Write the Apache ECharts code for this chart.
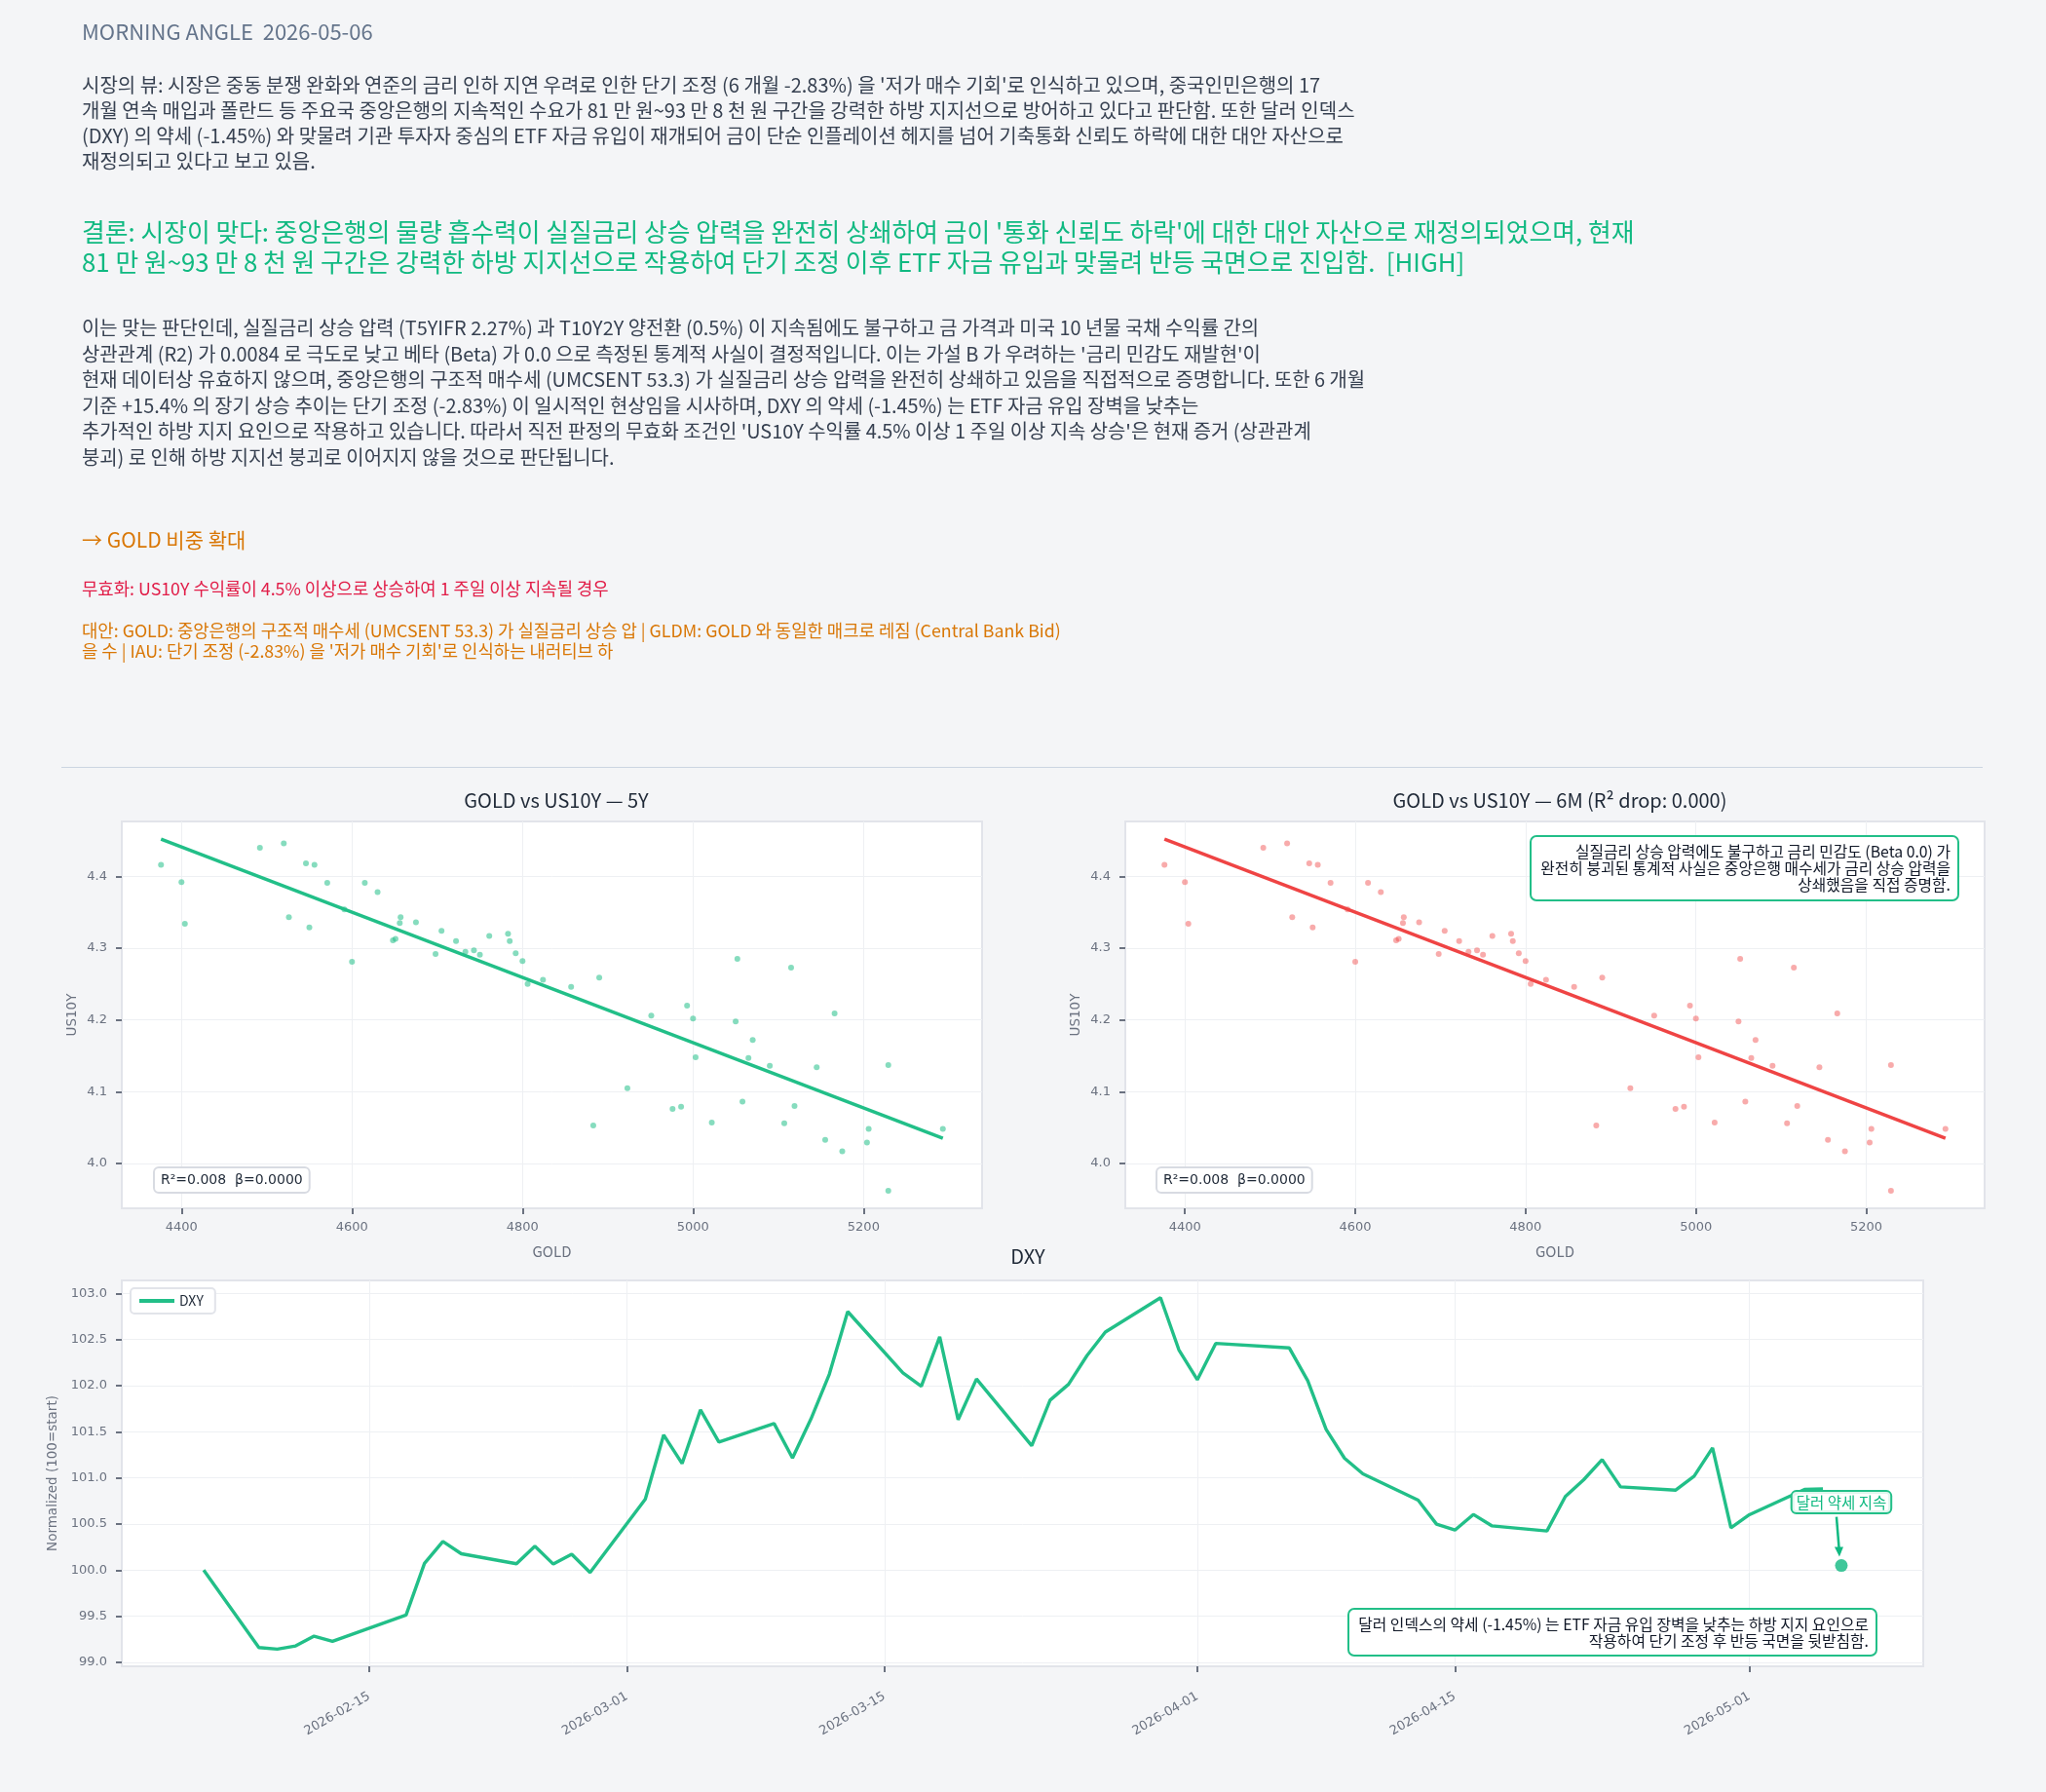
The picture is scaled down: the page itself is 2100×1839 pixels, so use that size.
<!DOCTYPE html>
<html>
<head>
<meta charset="utf-8">
<title>Morning Angle</title>
<script src="https://cdn.jsdelivr.net/npm/echarts@6/dist/echarts.min.js"></script>
<style>
  body { margin: 0; background: #f4f5f7; font-family: "Noto Sans CJK KR", "Noto Sans", sans-serif; }
  #page { position: relative; width: 2100px; height: 1839px; overflow: hidden; }
  #main { position: absolute; left: 0; top: 0; width: 2100px; height: 1839px; }
  .txt { position: absolute; left: 84px; white-space: pre; }
  #head { top: 16px; font-size: 22px; line-height: 30px; color: #64748b; }
  #view { top: 74px; font-size: 20px; line-height: 26px; color: #374151; }
  #verdict { top: 221px; font-size: 25.8px; line-height: 31px; color: #10b981; }
  #reason { top: 323px; font-size: 19.9px; line-height: 26.5px; color: #374151; }
  #action { top: 539px; font-size: 21px; line-height: 28px; color: #d97706; }
  #invalid { top: 592px; font-size: 17.8px; line-height: 22px; color: #e11d48; }
  #alt { top: 636px; font-size: 17.8px; line-height: 21px; color: #d97706; }
  #rule { position: absolute; left: 63px; top: 787px; width: 1972px; border-top: 1.5px solid #cbd5e1; }
</style>
</head>
<body>
<div id="page">
  <div id="main"></div>
  <div class="txt" id="head">MORNING ANGLE  2026-05-06</div>
  <div class="txt" id="view">시장의 뷰: 시장은 중동 분쟁 완화와 연준의 금리 인하 지연 우려로 인한 단기 조정 (6 개월 -2.83%) 을 '저가 매수 기회'로 인식하고 있으며, 중국인민은행의 17
개월 연속 매입과 폴란드 등 주요국 중앙은행의 지속적인 수요가 81 만 원~93 만 8 천 원 구간을 강력한 하방 지지선으로 방어하고 있다고 판단함. 또한 달러 인덱스
(DXY) 의 약세 (-1.45%) 와 맞물려 기관 투자자 중심의 ETF 자금 유입이 재개되어 금이 단순 인플레이션 헤지를 넘어 기축통화 신뢰도 하락에 대한 대안 자산으로
재정의되고 있다고 보고 있음.</div>
  <div class="txt" id="verdict">결론: 시장이 맞다: 중앙은행의 물량 흡수력이 실질금리 상승 압력을 완전히 상쇄하여 금이 '통화 신뢰도 하락'에 대한 대안 자산으로 재정의되었으며, 현재
81 만 원~93 만 8 천 원 구간은 강력한 하방 지지선으로 작용하여 단기 조정 이후 ETF 자금 유입과 맞물려 반등 국면으로 진입함.  [HIGH]</div>
  <div class="txt" id="reason">이는 맞는 판단인데, 실질금리 상승 압력 (T5YIFR 2.27%) 과 T10Y2Y 양전환 (0.5%) 이 지속됨에도 불구하고 금 가격과 미국 10 년물 국채 수익률 간의
상관관계 (R2) 가 0.0084 로 극도로 낮고 베타 (Beta) 가 0.0 으로 측정된 통계적 사실이 결정적입니다. 이는 가설 B 가 우려하는 '금리 민감도 재발현'이
현재 데이터상 유효하지 않으며, 중앙은행의 구조적 매수세 (UMCSENT 53.3) 가 실질금리 상승 압력을 완전히 상쇄하고 있음을 직접적으로 증명합니다. 또한 6 개월
기준 +15.4% 의 장기 상승 추이는 단기 조정 (-2.83%) 이 일시적인 현상임을 시사하며, DXY 의 약세 (-1.45%) 는 ETF 자금 유입 장벽을 낮추는
추가적인 하방 지지 요인으로 작용하고 있습니다. 따라서 직전 판정의 무효화 조건인 'US10Y 수익률 4.5% 이상 1 주일 이상 지속 상승'은 현재 증거 (상관관계
붕괴) 로 인해 하방 지지선 붕괴로 이어지지 않을 것으로 판단됩니다.</div>
  <div class="txt" id="action">→ GOLD 비중 확대</div>
  <div class="txt" id="invalid">무효화: US10Y 수익률이 4.5% 이상으로 상승하여 1 주일 이상 지속될 경우</div>
  <div class="txt" id="alt">대안: GOLD: 중앙은행의 구조적 매수세 (UMCSENT 53.3) 가 실질금리 상승 압 | GLDM: GOLD 와 동일한 매크로 레짐 (Central Bank Bid)
을 수 | IAU: 단기 조정 (-2.83%) 을 '저가 매수 기회'로 인식하는 내러티브 하</div>
  <div id="rule"></div>
</div>
<script>
// scatter: GOLD vs US10Y (same sample in both panels)
var goldX = [4376, 4400, 4404, 4492, 4520, 4526, 4546, 4556, 4550, 4571, 4591, 4600, 4615, 4630, 4648, 4651,
  4657, 4656, 4675, 4698, 4705, 4722, 4733, 4743, 4750, 4761, 4783, 4785, 4792, 4800, 4806, 4824, 4857, 4883,
  4890, 4923, 4951, 4976, 4986, 4993, 5000, 5003, 5022, 5050, 5052, 5058, 5065, 5070, 5090, 5107, 5115, 5119,
  5145, 5155, 5166, 5175, 5204, 5206, 5229, 5229, 5293]
var us10y = [4.416, 4.392, 4.334, 4.440, 4.446, 4.343, 4.418, 4.416, 4.329, 4.391, 4.354, 4.281, 4.391, 4.378,
  4.311, 4.313, 4.343, 4.335, 4.336, 4.292, 4.324, 4.310, 4.295, 4.297, 4.291, 4.317, 4.320, 4.310, 4.293, 4.282,
  4.250, 4.256, 4.246, 4.053, 4.259, 4.105, 4.206, 4.076, 4.079, 4.220, 4.202, 4.148, 4.057, 4.198, 4.285, 4.086,
  4.147, 4.172, 4.136, 4.056, 4.273, 4.080, 4.134, 4.033, 4.209, 4.017, 4.029, 4.048, 4.137, 3.962, 4.048]
// fitted line end points as drawn
var fitX = [4376, 5293]
var fitY = [4.452, 4.035]
var goldTicks = [4400, 4600, 4800, 5000, 5200]
var yieldTicks = [4.0, 4.1, 4.2, 4.3, 4.4]

// DXY normalized (100 = start)
var dxyDates = ['2026-02-06', '2026-02-09', '2026-02-10', '2026-02-11', '2026-02-12', '2026-02-13', '2026-02-17',
  '2026-02-18', '2026-02-19', '2026-02-20', '2026-02-23', '2026-02-24', '2026-02-25', '2026-02-26', '2026-02-27',
  '2026-03-02', '2026-03-03', '2026-03-04', '2026-03-05', '2026-03-06', '2026-03-09', '2026-03-10', '2026-03-11',
  '2026-03-12', '2026-03-13', '2026-03-16', '2026-03-17', '2026-03-18', '2026-03-19', '2026-03-20', '2026-03-23',
  '2026-03-24', '2026-03-25', '2026-03-26', '2026-03-27', '2026-03-30', '2026-03-31', '2026-04-01', '2026-04-02',
  '2026-04-06', '2026-04-07', '2026-04-08', '2026-04-09', '2026-04-10', '2026-04-13', '2026-04-14', '2026-04-15',
  '2026-04-16', '2026-04-17', '2026-04-20', '2026-04-21', '2026-04-22', '2026-04-23', '2026-04-24', '2026-04-27',
  '2026-04-28', '2026-04-29', '2026-04-30', '2026-05-01', '2026-05-04', '2026-05-05']
var dxyValues = [100.0, 99.162, 99.144, 99.179, 99.285, 99.229, 99.514, 100.073, 100.312, 100.178, 100.07, 100.259,
  100.066, 100.172, 99.975, 100.770, 101.466, 101.157, 101.737, 101.389, 101.589, 101.216, 101.638, 102.124,
  102.803, 102.138, 101.994, 102.529, 101.631, 102.073, 101.350, 101.843, 102.015, 102.325, 102.581, 102.954,
  102.388, 102.064, 102.458, 102.409, 102.054, 101.526, 101.213, 101.044, 100.759, 100.499, 100.435, 100.604,
  100.481, 100.425, 100.798, 100.981, 101.199, 100.903, 100.868, 101.019, 101.325, 100.460, 100.601, 100.875,
  100.882]
var markerDate = '2026-05-06'
var markerValue = 100.05
var dateTicks = ['2026-02-15', '2026-03-01', '2026-03-15', '2026-04-01', '2026-04-15', '2026-05-01']
var dxyTicks = [99.0, 99.5, 100.0, 100.5, 101.0, 101.5, 102.0, 102.5, 103.0]

var GREEN = '#22bf88'
var RED = '#ef4444'
var FONT = '"Noto Sans CJK KR", "Noto Sans", sans-serif'
var TICKFONT = '"DejaVu Sans", sans-serif'
var GRAY = '#6b7280'
var DAY = 86400000

function toTime(s) {
  var p = s.split('-')
  return Date.UTC(+p[0], +p[1] - 1, +p[2])
}
function pad(n) { return (n < 10 ? '0' : '') + n }
function fmtDate(v) {
  var d = new Date(Math.round(v / DAY) * DAY)
  return d.getUTCFullYear() + '-' + pad(d.getUTCMonth() + 1) + '-' + pad(d.getUTCDate())
}

var scatterPts = goldX.map(function (g, i) { return [g, us10y[i]] })
var fitPts = fitX.map(function (g, i) { return [g, fitY[i]] })
var dxyPts = dxyDates.map(function (d, i) { return [toTime(d), dxyValues[i]] })
var dateTickVals = dateTicks.map(toTime)

var grids = [
  { left: 125, top: 843, width: 883, height: 397 },
  { left: 1155, top: 843, width: 882, height: 397 },
  { left: 125, top: 1314, width: 1849, height: 396 }
]
grids.forEach(function (g) {
  g.show = true
  g.backgroundColor = '#ffffff'
  g.borderColor = '#e2e4ea'
  g.borderWidth = 2
  g.containLabel = false
  g.outerBoundsMode = 'none'
})

function tickStyle(vals) {
  return { show: true, inside: false, length: 6, customValues: vals, lineStyle: { color: GRAY, width: 2 } }
}
function labelStyle(extra) {
  return Object.assign({ color: GRAY, fontSize: 13, fontFamily: TICKFONT }, extra)
}
var splitStyle = { show: true, lineStyle: { color: '#eef0f3', width: 1 } }

function goldAxis(idx) {
  return {
    type: 'value', gridIndex: idx, min: 4330, max: 5339,
    name: 'GOLD', nameLocation: 'middle', nameGap: 37,
    nameTextStyle: { color: GRAY, fontSize: 15, fontFamily: FONT },
    axisLine: { show: false },
    axisTick: tickStyle(goldTicks),
    axisLabel: labelStyle({ margin: 13, customValues: goldTicks, formatter: function (v) { return String(v) } }),
    splitLine: splitStyle
  }
}
function yieldAxis(idx) {
  return {
    type: 'value', gridIndex: idx, min: 3.9375, max: 4.4765,
    name: 'US10Y', nameLocation: 'middle', nameGap: 44,
    nameTextStyle: { color: GRAY, fontSize: 13.5, fontFamily: TICKFONT },
    axisLine: { show: false },
    axisTick: tickStyle(yieldTicks),
    axisLabel: labelStyle({ margin: 15, customValues: yieldTicks, formatter: function (v) { return v.toFixed(1) } }),
    splitLine: splitStyle
  }
}

var titleStyle = { color: '#1f2937', fontSize: 20, fontWeight: 'normal', fontFamily: FONT }

var option = {
  animation: false,
  backgroundColor: 'transparent',
  title: [
    { text: 'GOLD vs US10Y — 5Y', left: 566, top: 806, textAlign: 'center', textStyle: titleStyle },
    { text: 'GOLD vs US10Y — 6M (R² drop: 0.000)', left: 1596, top: 806, textAlign: 'center', textStyle: titleStyle },
    { text: 'DXY', left: 1050, top: 1274, textAlign: 'center', textStyle: titleStyle }
  ],
  legend: {
    left: 134, top: 1322,
    data: [{ name: 'DXY', icon: 'rect' }],
    itemWidth: 36, itemHeight: 4,
    padding: [6, 12, 6, 9],
    backgroundColor: '#ffffff', borderColor: '#e2e4ea', borderWidth: 2, borderRadius: 4,
    textStyle: { color: '#1f2937', fontSize: 14, fontFamily: FONT }
  },
  grid: grids,
  xAxis: [
    goldAxis(0),
    goldAxis(1),
    {
      type: 'value', gridIndex: 2,
      min: toTime('2026-02-06') - 4.45 * DAY, max: toTime('2026-05-06') + 4.45 * DAY,
      axisLine: { show: false },
      axisTick: tickStyle(dateTickVals),
      axisLabel: labelStyle({ customValues: dateTickVals, rotate: 30, margin: 30, formatter: fmtDate }),
      splitLine: splitStyle
    }
  ],
  yAxis: [
    yieldAxis(0),
    yieldAxis(1),
    {
      type: 'value', gridIndex: 2, min: 98.958, max: 103.141,
      name: 'Normalized (100=start)', nameLocation: 'middle', nameGap: 58,
      nameTextStyle: { color: GRAY, fontSize: 13.5, fontFamily: TICKFONT },
      axisLine: { show: false },
      axisTick: tickStyle(dxyTicks),
      axisLabel: labelStyle({ margin: 15, customValues: dxyTicks, formatter: function (v) { return v.toFixed(1) } }),
      splitLine: splitStyle
    }
  ],
  series: [
    { type: 'scatter', xAxisIndex: 0, yAxisIndex: 0, data: scatterPts, symbolSize: 6,
      itemStyle: { color: GREEN, opacity: 0.55 }, z: 2 },
    { type: 'line', xAxisIndex: 0, yAxisIndex: 0, data: fitPts, symbol: 'none',
      lineStyle: { color: GREEN, width: 3.5 }, z: 3 },
    { type: 'scatter', xAxisIndex: 1, yAxisIndex: 1, data: scatterPts, symbolSize: 6,
      itemStyle: { color: RED, opacity: 0.45 }, z: 2 },
    { type: 'line', xAxisIndex: 1, yAxisIndex: 1, data: fitPts, symbol: 'none',
      lineStyle: { color: RED, width: 3.5 }, z: 3 },
    { name: 'DXY', type: 'line', xAxisIndex: 2, yAxisIndex: 2, data: dxyPts, symbol: 'none',
      lineStyle: { color: GREEN, width: 3.4 }, itemStyle: { color: GREEN }, z: 3 },
    { type: 'scatter', xAxisIndex: 2, yAxisIndex: 2, data: [[toTime(markerDate), markerValue]],
      symbolSize: 13, itemStyle: { color: '#10b981' }, z: 5 }
  ]
}

var chart = echarts.init(document.getElementById('main'), null, { renderer: 'canvas' })
chart.setOption(option)

// note box: rounded frame plus right-aligned lines
function noteBox(x, y, w, h, lines, lineGap, rightPad) {
  var els = [{
    type: 'rect', z: 20,
    shape: { x: x, y: y, width: w, height: h, r: 6 },
    style: { fill: '#ffffff', stroke: GREEN, lineWidth: 2 }
  }]
  var top = y + (h - lines.length * lineGap) / 2 + lineGap / 2
  lines.forEach(function (t, i) {
    els.push({
      type: 'text', z: 21, x: x + w - rightPad, y: top + i * lineGap,
      style: { text: t, font: '15.8px ' + FONT, fill: '#111827', align: 'right', verticalAlign: 'middle' }
    })
  })
  return els
}
function statBox(left) {
  return {
    type: 'text', left: left, top: 1197, z: 20,
    style: {
      text: 'R²=0.008  β=0.0000', font: '14px ' + TICKFONT, fill: '#1f2937', lineHeight: 16,
      backgroundColor: '#ffffff', borderColor: '#d8dbe2', borderWidth: 2, borderRadius: 4, padding: [4, 6]
    }
  }
}

var dot = chart.convertToPixel({ xAxisIndex: 2, yAxisIndex: 2 }, [toTime(markerDate), markerValue])
var tip = [dot[0] - 2, dot[1] - 9]

var graphics = [statBox(157), statBox(1186)]
  .concat(noteBox(1571, 858, 439, 66, [
    '실질금리 상승 압력에도 불구하고 금리 민감도 (Beta 0.0) 가',
    '완전히 붕괴된 통계적 사실은 중앙은행 매수세가 금리 상승 압력을',
    '상쇄했음을 직접 증명함.'
  ], 17, 8))
  .concat(noteBox(1384, 1651, 542, 48, [
    '달러 인덱스의 약세 (-1.45%) 는 ETF 자금 유입 장벽을 낮추는 하방 지지 요인으로',
    '작용하여 단기 조정 후 반등 국면을 뒷받침함.'
  ], 17, 8))
  .concat([
    { type: 'text', x: dot[0], y: dot[1] - 65, z: 20,
      style: {
        text: '달러 약세 지속', font: '15.5px ' + FONT, fill: '#10b981', align: 'center', verticalAlign: 'middle',
        lineHeight: 17,
        backgroundColor: 'rgba(255,255,255,0.85)', borderColor: GREEN, borderWidth: 2, borderRadius: 4, padding: [2, 4]
      } },
    { type: 'line', z: 19,
      shape: { x1: dot[0] - 5, y1: dot[1] - 50, x2: tip[0], y2: tip[1] - 4 },
      style: { stroke: '#10b981', lineWidth: 2.5 } },
    { type: 'polygon', z: 19,
      shape: { points: [[tip[0], tip[1]], [tip[0] - 5, tip[1] - 10], [tip[0] + 4, tip[1] - 10]] },
      style: { fill: '#10b981' } }
  ])

chart.setOption({ graphic: graphics })
</script>
</body>
</html>
